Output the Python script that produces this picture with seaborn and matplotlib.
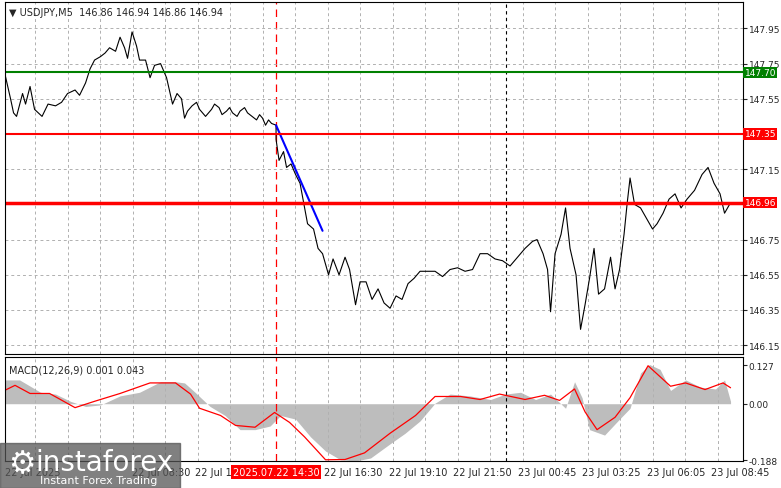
import numpy as np
import matplotlib
matplotlib.use("Agg")
import matplotlib.pyplot as plt
import seaborn as sns

# price line (x in chart units, roughly pixel/1.5)
price_x = [3, 7, 9, 11, 15, 17, 20, 23, 28, 32, 37, 41, 45, 50, 53, 57, 60, 63, 67, 70, 73, 77, 80, 83, 85, 88,
           91, 93, 97, 100, 103, 107, 111, 115, 118, 121, 123, 125, 128, 131, 133, 137, 139, 141, 143, 146, 148,
           151, 153, 155, 158, 160, 163, 165, 168, 171, 173, 175, 177, 179, 181, 184, 184, 186, 189, 191, 194, 197,
           200, 205, 209, 212, 215, 219, 222, 226, 230, 233, 237, 240, 244, 248, 252, 256, 260, 264, 268, 272, 276,
           280, 285, 290, 295, 300, 305, 310, 315, 320, 325, 330, 335, 340, 345, 350, 355, 358, 362, 365, 367, 370,
           374, 377, 380, 384, 387, 390, 393, 396, 399, 403, 407, 410, 413, 416, 418, 420, 423, 427, 431, 435, 438,
           442, 446, 450, 454, 458, 463, 468, 472, 476, 480, 483, 487]
price_y = [147.70, 147.55, 147.47, 147.45, 147.58, 147.52, 147.62, 147.49, 147.45, 147.52, 147.51, 147.53, 147.58,
           147.60, 147.57, 147.64, 147.72, 147.77, 147.79, 147.81, 147.84, 147.82, 147.90, 147.84, 147.78, 147.93,
           147.85, 147.77, 147.77, 147.67, 147.74, 147.75, 147.67, 147.52, 147.58, 147.55, 147.44, 147.48, 147.51,
           147.53, 147.49, 147.45, 147.47, 147.49, 147.52, 147.50, 147.46, 147.48, 147.50, 147.47, 147.45, 147.48,
           147.50, 147.47, 147.45, 147.43, 147.46, 147.44, 147.40, 147.43, 147.41, 147.40, 147.32, 147.20, 147.25,
           147.16, 147.18, 147.12, 147.07, 146.84, 146.81, 146.70, 146.67, 146.55, 146.64, 146.55, 146.65, 146.58,
           146.38, 146.51, 146.51, 146.41, 146.47, 146.39, 146.36, 146.43, 146.41, 146.50, 146.53, 146.57, 146.57,
           146.57, 146.54, 146.58, 146.59, 146.57, 146.58, 146.67, 146.67, 146.64, 146.63, 146.60, 146.65, 146.70,
           146.74, 146.75, 146.67, 146.58, 146.34, 146.67, 146.78, 146.93, 146.70, 146.55, 146.24, 146.38, 146.53,
           146.70, 146.44, 146.47, 146.65, 146.47, 146.58, 146.78, 146.95, 147.10, 146.95, 146.93, 146.87, 146.81,
           146.84, 146.90, 146.98, 147.01, 146.93, 146.98, 147.03, 147.12, 147.16, 147.07, 147.01, 146.90, 146.96]

# MACD histogram and signal
hist_x = [3, 13, 27, 37, 47, 57, 67, 80, 93, 107, 117, 123, 130, 140, 150, 160, 170, 180, 187, 197, 207, 217, 227,
          237, 247, 260, 270, 280, 290, 300, 313, 327, 337, 347, 357, 367, 377, 383, 388, 393, 403, 413, 420, 427,
          433, 440, 447, 457, 467, 477, 483, 487]
hist_y = [0.079, 0.079, 0.038, 0.032, 0.008, -0.009, -0.004, 0.026, 0.038, 0.073, 0.073, 0.069, 0.038, -0.009,
          -0.039, -0.086, -0.086, -0.074, -0.039, -0.051, -0.110, -0.157, -0.186, -0.19, -0.180, -0.133, -0.098,
          -0.057, 0.002, 0.032, 0.026, 0.014, 0.032, 0.038, 0.014, 0.032, -0.015, 0.073, 0.020, -0.086, -0.104,
          -0.051, -0.015, 0.102, 0.13, 0.114, 0.044, 0.079, 0.055, 0.049, 0.079, 0.008]
sig_x = [3, 10, 20, 33, 50, 63, 80, 100, 117, 127, 133, 147, 157, 170, 183, 193, 203, 217, 230, 243, 260, 277, 290,
         307, 320, 333, 350, 363, 373, 383, 390, 398, 410, 420, 432, 447, 457, 470, 482, 487]
sig_y = [0.044, 0.061, 0.034, 0.034, -0.013, 0.008, 0.034, 0.069, 0.069, 0.032, -0.015, -0.039, -0.072, -0.078,
         -0.029, -0.062, -0.110, -0.186, -0.185, -0.163, -0.098, -0.039, 0.024, 0.024, 0.014, 0.032, 0.014, 0.028,
         0.011, 0.049, -0.027, -0.086, -0.045, 0.020, 0.126, 0.058, 0.069, 0.047, 0.069, 0.053]

levels = {147.70: "green", 147.35: "red", 146.96: "red"}
trend_x = [184, 215]
trend_y = [147.40, 146.80]
price_ticks = [147.95, 147.75, 147.55, 147.15, 146.75, 146.55, 146.35, 146.15]
time_labels = ["22 Jul 2025", "22 Jul 08:30", "22 Jul 11:", "22 Jul 16:30", "22 Jul 19:10", "22 Jul 21:50",
               "23 Jul 00:45", "23 Jul 03:25", "23 Jul 06:05", "23 Jul 08:45"]
time_pos = [3, 88, 130, 216, 259, 302, 345, 388, 431, 474]

W, H = 781, 489
XL = (3.3, 495.3)
fig = plt.figure(figsize=(W / 100, H / 100), dpi=100)
sns.set_style("white")
ax = fig.add_axes([5 / W, 1 - 355 / H, 738 / W, 352 / H])
ax2 = fig.add_axes([5 / W, 1 - 462 / H, 738 / W, 104 / H])

grid_x = np.arange(23.3, 495, 21.67)
for a in (ax, ax2):
    a.set_xlim(*XL)
    for gx in grid_x:
        a.axvline(gx, color="#b0b0b0", lw=0.7, ls=(0, (3, 3)))
    a.axvline(184, color="red", lw=0.9, ls=(0, (6, 4)))
    a.axvline(337, color="black", lw=0.8, ls=(0, (3, 3)))
    a.set_xticks([])
    for s in a.spines.values():
        s.set_color("black")
        s.set_linewidth(0.8)

ax.set_ylim(146.10, 148.10)
for t in price_ticks:
    ax.axhline(t, color="#b0b0b0", lw=0.7, ls=(0, (3, 3)))
sns.lineplot(x=price_x, y=price_y, ax=ax, color="black", lw=0.8, sort=False, estimator=None)
ax.plot(trend_x, trend_y, color="blue", lw=1.5)
for lv, c in levels.items():
    ax.axhline(lv, color=c, lw=2.5 if lv == 146.96 else 1.5)
ax.yaxis.tick_right()
ax.set_yticks(price_ticks)
ax.set_yticklabels([f"{t:.2f}" for t in price_ticks], fontsize=6.5)
ax.tick_params(axis="y", length=3, pad=1)
ax.set_xlabel("")
ax.set_ylabel("")
for lv, c in levels.items():
    ax.text(1.002, lv, f"{lv:.2f}", transform=ax.get_yaxis_transform(), fontsize=6.5, color="white",
            va="center", ha="left", bbox=dict(boxstyle="square,pad=0.15", fc=c, ec="none"))
ax.text(0.005, 0.985, "\u25bc USDJPY,M5  146.86 146.94 146.86 146.94", transform=ax.transAxes,
        fontsize=7, va="top")

ax2.set_ylim(-0.19, 0.155)
ax2.fill_between(hist_x, 0, hist_y, color="#bdbdbd", lw=0)
ax2.plot(sig_x, sig_y, color="red", lw=0.9)
ax2.yaxis.tick_right()
ax2.set_yticks([0.127, 0.0, -0.188])
ax2.set_yticklabels(["0.127", "0.00", "-0.188"], fontsize=6.5)
ax2.tick_params(axis="y", length=3, pad=1)
ax2.text(0.005, 0.93, "MACD(12,26,9) 0.001 0.043", transform=ax2.transAxes, fontsize=7, va="top")

for lab, p in zip(time_labels, time_pos):
    ax2.text(p, -0.21, lab, fontsize=7, ha="left", va="top")
ax2.text(184, -0.21, "2025.07.22 14:30", fontsize=7, ha="center", va="top", color="white",
         bbox=dict(boxstyle="square,pad=0.2", fc="red", ec="none"))

# watermark
fig.patches.append(plt.Rectangle((0, 0), 180 / W, 45 / H, transform=fig.transFigure,
                                 color="#555555", alpha=0.75, zorder=5))
fig.text(35 / W, 26 / H, "instaforex", fontsize=20, color="white", va="center", zorder=6)
fig.text(40 / W, 8 / H, "Instant Forex Trading", fontsize=8, color="white", va="center", zorder=6)
fig.text(8 / W, 24 / H, "\u2699", fontsize=22, color="white", va="center", zorder=6)

fig.savefig("out.png", dpi=100)
